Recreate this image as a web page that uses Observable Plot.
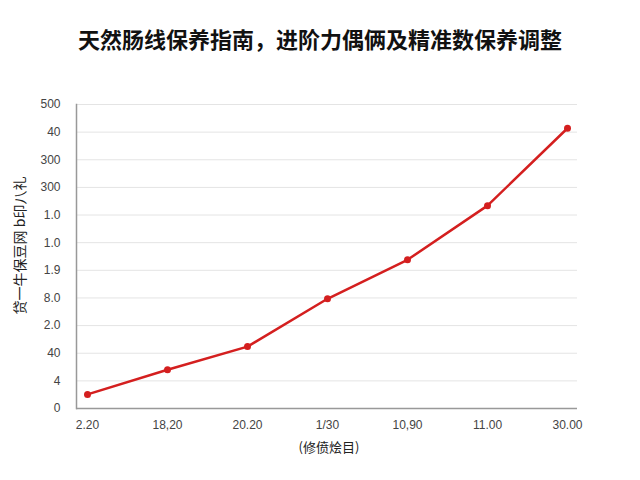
<!DOCTYPE html>
<html>
<head>
<meta charset="utf-8">
<script src="https://cdn.jsdelivr.net/npm/d3@7"></script>
<script src="https://cdn.jsdelivr.net/npm/@observablehq/plot@0.6"></script>
<style>
  html, body { margin: 0; padding: 0; background: #fff; }
  body { width: 640px; height: 480px; overflow: hidden; font-family: "Liberation Sans", "Noto Sans CJK SC", sans-serif; }
  #title { height: 80px; box-sizing: border-box; padding-top: 23px; text-align: center; font-family: "Noto Sans CJK SC", sans-serif; font-weight: 700; font-size: 22px; color: #111; line-height: 30px; letter-spacing: 0px; }
  #chart svg { display: block; }
</style>
</head>
<body>
<div id="title">天然肠线保养指南，进阶力偶俩及精准数保养调整</div>
<div id="chart"></div>
<script>
const categories = ["2.20", "18,20", "20.20", "1/30", "10,90", "11.00", "30.00"];
const values = [0.51, 1.40, 2.24, 3.97, 5.38, 7.34, 10.14];
const yTickLabels = ["0", "4", "40", "2.0", "8.0", "1.9", "1.0", "1.0", "300", "300", "40", "500"];
const yTitle = "贷一牛保豆网 b印八礼";
const xTitle = "(修偾烩目)";

const data = categories.map((c, i) => ({cat: c, v: values[i]}));
const red = "#d41f1f";

const chart = Plot.plot({
  width: 640,
  height: 400,
  marginTop: 24,
  marginBottom: 72,
  marginLeft: 76,
  marginRight: 63,
  style: {fontFamily: "'Liberation Sans', 'Noto Sans CJK SC', sans-serif", fontSize: "12px", color: "#444"},
  x: {type: "point", domain: categories, padding: 0.11},
  y: {domain: [0, 11]},
  marks: [
    Plot.gridY(d3.range(0, 12), {stroke: "#e4e4e4", strokeOpacity: 1}),
    Plot.frame({anchor: "left", stroke: "#999", strokeWidth: 1.5}),
    Plot.ruleY([0], {stroke: "#999", strokeWidth: 1.5}),
    Plot.axisY(d3.range(0, 12), {
      tickSize: 0, tickPadding: 16, tickFormat: i => yTickLabels[i], label: null, fontSize: 12
    }),
    Plot.axisX({tickSize: 0, tickPadding: 12, label: null, fontSize: 12}),
    Plot.text([yTitle], {frameAnchor: "left", textAnchor: "middle", rotate: -90, dx: -56, dy: -11, fontSize: 14, fill: "#222",
      fontFamily: "'Noto Sans CJK SC', sans-serif"}),
    Plot.text([xTitle], {frameAnchor: "bottom", dy: 43, dx: 2, fontSize: 13, fill: "#222",
      fontFamily: "'Noto Sans CJK SC', sans-serif"}),
    Plot.line(data, {x: "cat", y: "v", stroke: red, strokeWidth: 2.5}),
    Plot.dot(data, {x: "cat", y: "v", r: 3.5, fill: red})
  ]
});
document.getElementById("chart").appendChild(chart);
</script>
</body>
</html>
